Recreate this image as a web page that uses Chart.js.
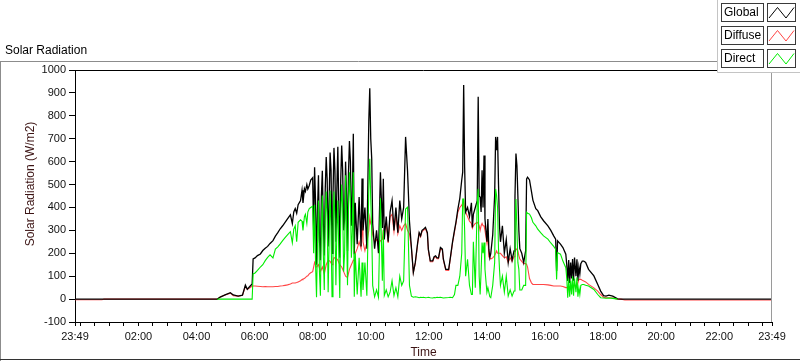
<!DOCTYPE html>
<html><head><meta charset="utf-8">
<script src="https://cdn.jsdelivr.net/npm/chart.js@4.4.1/dist/chart.umd.min.js"></script>
<style>html,body{margin:0;padding:0;background:#fff;overflow:hidden}#wrap{width:800px;height:361px;position:relative}</style>
</head><body><div id="wrap"><canvas id="c" width="800" height="361"></canvas></div>
<script>
// ---- data ----
const times = [
 "23:49","00:45","00:49","04:43","04:49","04:59","05:10","05:16","05:26","05:35","05:41","05:45","05:51","05:55",
 "05:57","06:01","06:06","06:12","06:17","06:22","06:27","06:32","06:38","06:43","06:48","06:53","06:58","07:03","07:08","07:14","07:18","07:21","07:24","07:27","07:30","07:35","07:38","07:40","07:43","07:45","07:48","07:50","07:53","07:56",
 "08:00","08:02","08:04","08:06","08:08","08:10","08:12","08:14","08:16","08:18","08:20","08:22","08:24","08:26","08:28","08:30","08:32","08:34","08:36","08:38","08:40","08:42","08:44","08:46","08:48","08:50","08:52","08:54","08:56","08:58","09:00","09:02","09:04","09:06","09:08","09:10","09:12","09:14","09:16","09:18","09:20","09:22","09:24",
 "09:26","09:28","09:32","09:36","09:40","09:42","09:44","09:48","09:52","09:56","09:58","10:00","10:02","10:04","10:08","10:12","10:16","10:20","10:24","10:26","10:28",
 "10:32","10:36","10:40","10:44","10:48","10:52","10:56","11:00","11:04","11:08","11:12","11:16","11:20","11:24","11:28",
 "11:32","11:37","11:40","11:43","11:46","11:49","11:53","11:57","11:59","12:03","12:08","12:11","12:14","12:17","12:20","12:24","12:28","12:30","12:35","12:41","12:45","12:49","12:53","12:56",
 "13:00","13:04","13:08","13:10","13:12","13:14","13:16","13:20","13:24","13:28","13:30","13:32","13:36","13:40","13:42","13:44","13:46","13:48","13:50","13:52","13:54","13:56",
 "14:00","14:02","14:04","14:06","14:08","14:12","14:16","14:18","14:20","14:22","14:24","14:26","14:28","14:32","14:36","14:40","14:44","14:48","14:52","14:56","14:58","15:00","15:02","15:04","15:06","15:08","15:12","15:16","15:20",
 "15:22","15:24","15:28","15:32","15:35","15:41","15:45","15:51","15:57","16:06","16:12","16:18","16:22","16:24","16:26","16:32","16:37","16:43","16:45",
 "16:47","16:49","16:51","16:53","16:55","16:57","16:59","17:01","17:04","17:06","17:08","17:10","17:12","17:14","17:17","17:20","17:24","17:30","17:41","17:49","17:55","18:01","18:06","18:12","18:20","18:30",
 "18:37","18:45","23:49"
];
const globalRad = [
 0,0,0,0,9,18,28,18,13,17,61,43,57,66,
 175,180,190,197,212,222,230,243,255,275,290,307,320,335,350,368,330,380,395,375,412,430,475,420,482,470,500,480,496,520,
 530,300,575,420,150,380,540,260,170,450,560,330,190,480,620,520,230,420,640,560,200,450,660,560,250,480,665,400,180,520,670,560,300,350,600,450,210,550,690,600,320,450,722,
 196,420,240,445,230,526,300,400,220,780,920,700,614,330,220,300,200,554,310,525,260,
 360,250,380,430,300,400,290,430,350,400,708,560,340,225,116,
 159,247,290,276,300,305,313,290,218,167,167,185,189,180,180,225,218,175,130,130,189,250,300,335,
 393,440,520,554,934,576,380,400,360,420,313,370,400,430,883,450,445,380,562,400,627,350,
 250,349,218,181,200,280,452,708,650,708,500,320,250,320,200,260,160,220,170,210,450,635,583,450,300,220,200,160,210,
 525,532,520,470,432,395,386,360,342,320,300,276,262,123,254,240,225,196,150,
 79,170,70,160,90,175,80,181,100,174,80,140,110,155,166,166,160,130,101,64,35,15,13,17,13,1,
 0,0,0
];
const diffuseRad = [
 -3,-3,0,0,9,18,26,15,13,17,55,43,50,57,
 57,57,56,55,54,55,54,54,54,55,55,57,58,60,62,66,70,70,70,72,75,80,85,88,90,94,100,102,110,115,
 120,140,160,150,140,145,150,135,120,130,140,125,110,130,150,160,170,168,165,158,150,165,180,180,180,175,170,160,150,145,140,130,120,110,100,97,94,112,130,140,150,160,170,
 167,200,220,250,220,340,250,211,250,300,357,330,320,280,250,260,240,255,260,300,300,
 328,245,360,370,295,370,285,320,300,320,330,300,284,225,116,
 155,243,286,272,296,300,308,286,214,163,163,181,184,176,176,220,214,171,126,125,184,246,293,330,
 380,400,410,420,430,400,380,360,340,330,310,320,330,335,330,320,300,320,330,320,320,300,
 245,276,185,180,175,180,190,200,210,200,200,200,200,190,180,185,160,180,165,185,200,218,218,210,190,175,165,155,155,
 152,140,90,71,64,64,64,64,64,62,60,57,57,57,57,57,55,50,50,
 50,55,48,60,45,60,50,64,55,60,70,86,86,86,82,79,75,64,49,35,20,8,6,6,5,0,
 0,-4,-4
];
const directRad = [
 null,null,null,0,0,0,0,0,0,0,0,0,0,0,
 110,114,125,140,150,168,182,193,180,218,228,241,255,268,280,294,246,305,320,250,335,346,340,300,360,370,330,380,395,400,
 405,200,412,150,8,250,430,120,15,300,452,200,40,350,470,350,30,250,474,300,10,300,470,350,60,300,430,200,5,350,500,400,120,200,540,300,60,400,554,420,180,300,554,
 10,200,20,180,10,160,40,160,15,480,612,437,300,60,10,40,8,440,80,300,15,
 40,10,30,80,15,50,10,100,60,80,393,401,60,13,8,
 10,8,6,8,7,8,6,7,8,6,5,7,6,8,7,8,6,5,6,7,8,6,20,60,
 60,100,200,437,437,300,100,174,60,20,20,250,50,422,481,100,20,120,247,200,247,130,
 30,50,30,10,6,60,160,481,452,400,218,130,60,100,30,100,13,40,13,35,300,437,305,160,130,40,40,60,60,
 379,375,371,355,335,320,305,290,276,262,245,230,218,86,203,196,166,137,90,
 6,90,10,80,20,100,15,90,30,95,10,50,20,60,64,64,60,57,42,20,6,5,4,5,3,0,
 null,null,null
];
const xTickLabels = ["23:49","02:00","04:00","06:00","08:00","10:00","12:00","14:00","16:00","18:00","20:00","22:00","23:49"];
const seriesNames = ["Global","Diffuse","Direct"];
const seriesColors = ["#000000","#ff4545","#00ee00"];
const chartTitle = "Solar Radiation";
const yTitle = "Solar Radiation (W/m2)";
const xTitle = "Time";

// ---- helpers ----
function toMin(s){const p=s.split(':');return (+p[0])*60+(+p[1]);}
const xs = times.map((s,i)=> i===0 ? toMin(s)-1440 : toMin(s));
const majorVals = xTickLabels.map((s,i)=> i===0 ? toMin(s)-1440 : toMin(s));
const labelMap = new Map(majorVals.map((v,i)=>[v,xTickLabels[i]]));
const tickVals = new Set(majorVals);
for(let m=0;m<=1410;m+=30) tickVals.add(m);
const allTicks = [...tickVals].sort((a,b)=>a-b);
const xMin = majorVals[0], xMax = majorVals[majorVals.length-1];

function mk(arr){return xs.map((x,i)=>({x:x,y:arr[i]}));}

Chart.defaults.font.family = "'Liberation Sans', Arial, sans-serif";
Chart.defaults.font.size = 11;

const FONT = "12px 'Liberation Sans', Arial, sans-serif";
const framePlugin = {
  id:'frame',
  beforeDraw(chart){const c=chart.ctx;c.save();c.fillStyle='#fff';c.fillRect(0,0,chart.width,chart.height);c.restore();},
  afterDraw(chart){
    const c=chart.ctx,a=chart.chartArea;
    c.save();
    c.lineWidth=1;
    c.strokeStyle='#8c8c8c';
    c.beginPath();c.moveTo(0,61.5);c.lineTo(717,61.5);c.moveTo(0.5,61);c.lineTo(0.5,361);c.stroke();
    c.strokeStyle='#333';
    c.beginPath();c.moveTo(0,359.5);c.lineTo(800,359.5);c.stroke();
    c.strokeStyle='#000';
    c.beginPath();c.moveTo(a.left,a.top+0.5);c.lineTo(a.right,a.top+0.5);c.stroke();
    c.strokeStyle='#9a9a9a';
    c.beginPath();c.moveTo(a.right-0.5,a.top);c.lineTo(a.right-0.5,a.bottom);c.stroke();
    c.font=FONT;c.fillStyle='#000';c.textBaseline='middle';c.textAlign='left';
    c.fillText(chartTitle,5,51);
    c.fillStyle='#3c1414';c.textAlign='center';
    c.fillText(xTitle,(a.left+a.right)/2,353);
    c.save();c.translate(31,184);c.rotate(-Math.PI/2);c.fillText(yTitle,0,0);c.restore();
    c.fillStyle='#fff';c.fillRect(717,0,83,72);
    c.strokeStyle='#c4c4c4';
    c.beginPath();c.moveTo(717.5,0);c.lineTo(717.5,72.5);c.lineTo(800,72.5);c.stroke();
    const tops=[3,26,49];
    seriesNames.forEach((n,i)=>{
      const t=tops[i];
      c.strokeStyle='#3a3a3a';c.lineWidth=1;
      c.strokeRect(721.5,t+0.5,42,18);
      c.strokeRect(767.5,t+0.5,28,18);
      c.fillStyle='#000';c.textAlign='left';c.textBaseline='middle';c.font=FONT;
      c.fillText(n,724,t+10);
      c.strokeStyle=seriesColors[i];
      c.beginPath();c.moveTo(769,t+15);c.lineTo(777.5,t+4.5);c.lineTo(786,t+15);c.lineTo(794,t+4.5);c.stroke();
    });
    c.restore();
  }
};

new Chart(document.getElementById('c'),{
  type:'line',
  data:{datasets:[
    {label:seriesNames[2],data:mk(directRad),borderColor:seriesColors[2],borderWidth:1.1,pointRadius:0,tension:0,order:0,spanGaps:false},
    {label:seriesNames[0],data:mk(globalRad),borderColor:seriesColors[0],borderWidth:1.3,pointRadius:0,tension:0,order:1},
    {label:seriesNames[1],data:mk(diffuseRad),borderColor:seriesColors[1],borderWidth:1.1,pointRadius:0,tension:0,order:2}
  ]},
  options:{
    responsive:false,animation:false,devicePixelRatio:1,
    layout:{padding:{left:0,right:28,top:70,bottom:0}},
    plugins:{legend:{display:false},tooltip:{enabled:false},title:{display:false}},
    scales:{
      x:{type:'linear',min:xMin,max:xMax,
        afterBuildTicks(s){s.ticks=allTicks.map(v=>({value:v}));},
        afterFit(s){s.height=39;},
        ticks:{autoSkip:false,maxRotation:0,minRotation:0,padding:4,color:'#111',font:{size:11},
          callback:(v)=>labelMap.has(v)?labelMap.get(v):''},
        grid:{display:true,drawOnChartArea:false,drawTicks:true,tickLength:4,tickColor:'#000'},
        border:{display:true,color:'#000',width:1}},
      y:{type:'linear',min:-100,max:1000,
        afterFit(s){s.width=75;},
        ticks:{stepSize:100,padding:3,color:'#111',font:{size:11},callback:(v)=>String(v)},
        grid:{display:true,drawOnChartArea:false,drawTicks:true,tickLength:6,tickColor:'#000'},
        border:{display:true,color:'#000',width:1}}
    }
  },
  plugins:[framePlugin]
});
</script></body></html>
